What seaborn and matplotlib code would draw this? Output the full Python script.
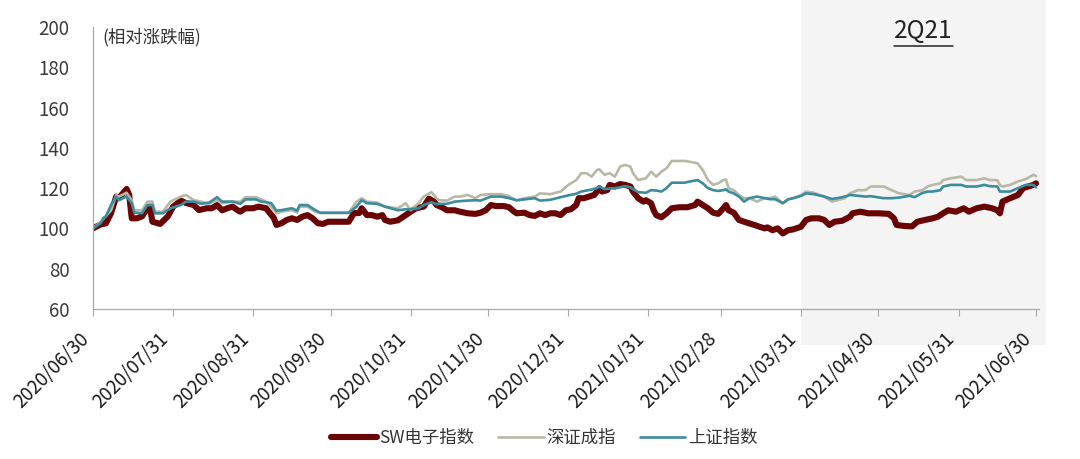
import matplotlib
matplotlib.use("Agg")
import matplotlib.pyplot as plt
import matplotlib.dates as mdates
import matplotlib.transforms as mtransforms
from matplotlib.patches import Rectangle
from matplotlib.lines import Line2D
import seaborn as sns
import pandas as pd

# ---------------- data ----------------
series_names = ["SW电子指数", "深证成指", "上证指数"]

sw_dates = [
    "2020-06-30", "2020-07-03", "2020-07-05", "2020-07-07", "2020-07-09", "2020-07-10", "2020-07-13", "2020-07-14", "2020-07-15", "2020-07-17",
    "2020-07-19", "2020-07-21", "2020-07-22", "2020-07-23", "2020-07-26", "2020-07-29", "2020-07-31", "2020-08-03", "2020-08-05", "2020-08-08",
    "2020-08-10", "2020-08-13", "2020-08-15", "2020-08-17", "2020-08-19", "2020-08-21", "2020-08-23", "2020-08-25", "2020-08-26", "2020-08-28",
    "2020-08-31", "2020-09-02", "2020-09-05", "2020-09-06", "2020-09-08", "2020-09-09", "2020-09-11", "2020-09-13", "2020-09-15", "2020-09-17",
    "2020-09-19", "2020-09-21", "2020-09-23", "2020-09-25", "2020-09-27", "2020-09-29", "2020-10-07", "2020-10-09", "2020-10-11", "2020-10-12",
    "2020-10-14", "2020-10-16", "2020-10-18", "2020-10-20", "2020-10-21", "2020-10-23", "2020-10-26", "2020-10-29", "2020-10-31", "2020-11-02",
    "2020-11-05", "2020-11-07", "2020-11-09", "2020-11-10", "2020-11-12", "2020-11-14", "2020-11-17", "2020-11-19", "2020-11-22", "2020-11-25",
    "2020-11-27", "2020-11-29", "2020-12-01", "2020-12-03", "2020-12-06", "2020-12-08", "2020-12-10", "2020-12-11", "2020-12-14", "2020-12-16",
    "2020-12-18", "2020-12-20", "2020-12-22", "2020-12-24", "2020-12-26", "2020-12-28", "2020-12-30", "2021-01-01", "2021-01-03", "2021-01-04",
    "2021-01-06", "2021-01-08", "2021-01-10", "2021-01-11", "2021-01-12", "2021-01-13", "2021-01-15", "2021-01-16", "2021-01-18", "2021-01-20",
    "2021-01-22", "2021-01-24", "2021-01-25", "2021-01-27", "2021-01-29", "2021-01-30", "2021-02-01", "2021-02-02", "2021-02-03", "2021-02-05",
    "2021-02-07", "2021-02-09", "2021-02-12", "2021-02-15", "2021-02-18", "2021-02-19", "2021-02-21", "2021-02-23", "2021-02-25", "2021-02-27",
    "2021-03-01", "2021-03-02", "2021-03-03", "2021-03-05", "2021-03-07", "2021-03-09", "2021-03-11", "2021-03-13", "2021-03-15", "2021-03-17",
    "2021-03-18", "2021-03-20", "2021-03-22", "2021-03-24", "2021-03-26", "2021-03-28", "2021-03-31", "2021-04-02", "2021-04-04", "2021-04-07",
    "2021-04-09", "2021-04-11", "2021-04-13", "2021-04-16", "2021-04-19", "2021-04-20", "2021-04-23", "2021-04-26", "2021-04-30", "2021-05-04",
    "2021-05-06", "2021-05-07", "2021-05-10", "2021-05-13", "2021-05-15", "2021-05-18", "2021-05-21", "2021-05-23", "2021-05-25", "2021-05-27",
    "2021-05-30", "2021-06-02", "2021-06-04", "2021-06-07", "2021-06-10", "2021-06-13", "2021-06-15", "2021-06-16", "2021-06-17", "2021-06-20",
    "2021-06-23", "2021-06-25", "2021-06-27", "2021-06-29", "2021-06-30",
]
sw_values = [
    100, 102, 102.5, 107.6, 115.8, 115, 119.6, 116.6, 105, 105,
    106, 110, 110.8, 103.3, 102.2, 106, 110.8, 113.8, 112.6, 111.6,
    109.1, 110, 110, 111.6, 109, 110, 110.8, 109, 108.3, 110,
    110, 110.8, 110, 108.3, 105.2, 101.7, 102.6, 104.2, 105, 104.2,
    105.8, 106.6, 105, 102.6, 102.2, 103.3, 103.3, 107.6, 107.6, 110,
    106.6, 106.6, 105.8, 106.6, 104.2, 103.3, 104, 106.6, 108.3, 110,
    110.8, 114.8, 113.3, 111.6, 110.5, 109, 109, 108.3, 107.5, 107.2,
    107.8, 109, 111.6, 111.1, 111.1, 110.5, 108.3, 107.5, 107.8, 106.6,
    106.2, 107.5, 106.6, 107.5, 107.5, 106.6, 109, 109.5, 111.6, 115,
    115, 115.8, 116.6, 118.3, 120, 118.3, 119, 121.6, 120.8, 122,
    121.6, 120.8, 118.3, 115, 113.3, 114, 112.5, 109, 106.6, 105.5,
    107.5, 110, 110.5, 110.5, 111.6, 113.3, 111.6, 110, 107.8, 107.2,
    110, 111.6, 109, 107.8, 104.2, 103.3, 102.5, 101.7, 100.8, 100,
    100.5, 99.1, 100, 97.5, 99.1, 99.5, 100.8, 104.2, 105, 105,
    104.2, 101.7, 103.3, 103.8, 105.8, 107.5, 108.3, 107.5, 107.5, 107.2,
    105, 101.7, 101.2, 101, 103.3, 104.2, 105, 105.8, 107.5, 109,
    108.3, 110, 108.3, 110, 110.8, 110, 109, 107.5, 113.3, 115,
    116.6, 120, 120.8, 121.6, 122.4,
]

idx_dates = [
    "2020-06-30", "2020-07-03", "2020-07-04", "2020-07-05", "2020-07-07", "2020-07-09", "2020-07-10", "2020-07-13", "2020-07-15", "2020-07-16",
    "2020-07-19", "2020-07-21", "2020-07-23", "2020-07-24", "2020-07-27", "2020-07-30", "2020-08-03", "2020-08-05", "2020-08-08", "2020-08-11",
    "2020-08-14", "2020-08-17", "2020-08-19", "2020-08-23", "2020-08-26", "2020-08-28", "2020-09-01", "2020-09-03", "2020-09-05", "2020-09-07",
    "2020-09-09", "2020-09-11", "2020-09-15", "2020-09-17", "2020-09-18", "2020-09-21", "2020-09-24", "2020-09-26", "2020-10-07", "2020-10-10",
    "2020-10-12", "2020-10-14", "2020-10-18", "2020-10-21", "2020-10-26", "2020-10-29", "2020-10-31", "2020-11-03", "2020-11-05", "2020-11-08",
    "2020-11-10", "2020-11-11", "2020-11-14", "2020-11-17", "2020-11-19", "2020-11-22", "2020-11-25", "2020-11-27", "2020-12-01", "2020-12-05",
    "2020-12-08", "2020-12-11", "2020-12-14", "2020-12-18", "2020-12-20", "2020-12-24", "2020-12-28", "2020-12-31", "2021-01-03", "2021-01-05",
    "2021-01-07", "2021-01-09", "2021-01-11", "2021-01-12", "2021-01-14", "2021-01-16", "2021-01-18", "2021-01-20", "2021-01-22", "2021-01-24",
    "2021-01-25", "2021-01-27", "2021-01-30", "2021-02-01", "2021-02-03", "2021-02-05", "2021-02-07", "2021-02-09", "2021-02-14", "2021-02-16",
    "2021-02-19", "2021-02-21", "2021-02-23", "2021-02-25", "2021-02-27", "2021-03-01", "2021-03-02", "2021-03-03", "2021-03-05", "2021-03-07",
    "2021-03-09", "2021-03-11", "2021-03-14", "2021-03-17", "2021-03-19", "2021-03-21", "2021-03-24", "2021-03-26", "2021-03-28", "2021-03-31",
    "2021-04-02", "2021-04-05", "2021-04-09", "2021-04-12", "2021-04-14", "2021-04-17", "2021-04-19", "2021-04-22", "2021-04-25", "2021-04-27",
    "2021-05-02", "2021-05-05", "2021-05-08", "2021-05-12", "2021-05-14", "2021-05-17", "2021-05-19", "2021-05-21", "2021-05-24", "2021-05-25",
    "2021-05-28", "2021-06-01", "2021-06-03", "2021-06-07", "2021-06-10", "2021-06-12", "2021-06-15", "2021-06-16", "2021-06-17", "2021-06-20",
    "2021-06-23", "2021-06-26", "2021-06-29", "2021-06-30",
]
sz_values = [
    100, 103.3, 105, 106, 109, 116.6, 115.8, 117.7, 114, 109,
    109, 113.3, 113.3, 108.3, 108.3, 113.3, 115.8, 116.6, 114, 113.3,
    112.2, 114, 112.5, 113.3, 113.3, 115.5, 115.5, 114.5, 113.3, 110.8,
    107.5, 108.3, 109.1, 107.8, 110.8, 110.8, 108.3, 107.6, 107.6, 113.3,
    115, 113.3, 112.8, 110.8, 110, 112.5, 109, 112.5, 115.8, 118,
    115, 114, 113.8, 115.8, 115.8, 116.6, 115, 116.6, 117, 117,
    116, 113.8, 115, 115.8, 117.4, 117, 118.3, 121.6, 124, 127.4,
    127.4, 125.7, 129, 129.3, 126.6, 127.4, 125.7, 130.7, 131.5, 130.7,
    127.4, 124, 124.9, 128.2, 125.7, 128.2, 129.9, 133.5, 133.5, 133.1,
    132.3, 129, 124, 121.6, 122.4, 124, 124.3, 120, 119, 116.6,
    115, 115, 113.3, 115, 115, 115.8, 112.5, 114.4, 115, 116.5,
    118.3, 117.7, 115.8, 113.3, 114, 115, 117.4, 119, 119, 120.8,
    120.8, 119, 117.4, 116.6, 118.3, 119, 120.8, 121.6, 122.4, 124,
    124.9, 125.7, 124, 124, 124.9, 124, 124, 121.5, 120.8, 121.6,
    123.3, 124.5, 126.6, 126,
]
sh_values = [
    100, 102.6, 105, 106, 111.6, 115.8, 114, 115.8, 112.5, 107.8,
    107.5, 111.6, 111.6, 107.5, 107.5, 110, 111.6, 113.3, 113.3, 112.2,
    112.8, 115.5, 113.3, 113.3, 112.2, 114.4, 114.4, 113.3, 113, 112.5,
    108.8, 109.1, 110, 108.8, 111.6, 111.6, 109.1, 107.8, 107.8, 110.8,
    114, 112.5, 112.2, 110.8, 109, 109.5, 109.5, 110, 111.6, 113,
    112, 112.2, 112.2, 113.3, 113.5, 113.8, 114, 113.8, 115.8, 115.8,
    115, 114, 114.4, 115, 113.8, 114.2, 115.5, 116.4, 117.2, 118.3,
    118.8, 119.3, 120, 120.8, 119.5, 119.8, 120, 120.4, 121, 120.4,
    119.5, 118, 117.7, 119, 118.8, 118.3, 120, 122.7, 122.7, 123.3,
    124, 122.4, 120, 119, 118.6, 119, 119.4, 118.3, 117.4, 115.8,
    113.3, 115, 115.8, 115, 114.5, 114.5, 112.5, 114.4, 115, 116.1,
    117.4, 117, 115.8, 114.6, 115, 115.8, 116.6, 116.2, 115.8, 116,
    115, 115, 115.3, 116.2, 115.5, 117.6, 118.3, 118.3, 119, 120.8,
    121.6, 121.6, 120.8, 120.8, 121.6, 121, 120.8, 118.3, 118.3, 118.3,
    120, 121.6, 121.6, 120.4,
]

tick_dates = ["2020-06-30", "2020-07-31", "2020-08-31", "2020-09-30", "2020-10-31", "2020-11-30",
              "2020-12-31", "2021-01-31", "2021-02-28", "2021-03-31", "2021-04-30", "2021-05-31",
              "2021-06-30"]
y_ticks = [60, 80, 100, 120, 140, 160, 180, 200]
x_range = ["2020-06-30", "2021-07-01"]
shade_range = ["2021-03-31", "2021-07-04"]
shade_label = "2Q21"
y_note = "(相对涨跌幅)"

colors = ["#6a0505", "#b9b8a6", "#3b8c9c"]
widths = [4.4, 1.9, 1.9]

# ---------------- figure ----------------
sns.set_style("white")
plt.rcParams["font.family"] = ["Noto Sans CJK SC", "DejaVu Sans"]

fig = plt.figure(figsize=(10.8, 4.59), dpi=100)
ax = fig.add_axes([0.0861, 0.327, 0.8756, 0.614])
ax.patch.set_facecolor("none")

frames = [
    pd.DataFrame({"date": pd.to_datetime(sw_dates), "value": sw_values}),
    pd.DataFrame({"date": pd.to_datetime(idx_dates), "value": sz_values}),
    pd.DataFrame({"date": pd.to_datetime(idx_dates), "value": sh_values}),
]
for name, df, c, w in zip(series_names, frames, colors, widths):
    sns.lineplot(data=df, x="date", y="value", ax=ax, color=c, linewidth=w,
                 errorbar=None, legend=False, sort=True,
                 solid_capstyle="round", solid_joinstyle="round")

ax.set_xlim(pd.to_datetime(x_range[0]), pd.to_datetime(x_range[1]))
ax.set_ylim(y_ticks[0], y_ticks[-1])
ax.set_yticks(y_ticks)
ax.set_xticks(pd.to_datetime(tick_dates))
ax.xaxis.set_major_formatter(mdates.DateFormatter("%Y/%m/%d"))
ax.set_xlabel("")
ax.set_ylabel("")

for s in ["top", "right"]:
    ax.spines[s].set_visible(False)
for s in ["left", "bottom"]:
    ax.spines[s].set_color("#a8a8a8")
    ax.spines[s].set_linewidth(0.9)

ax.tick_params(axis="y", length=0, pad=17, labelsize=13.5, labelcolor="#3a3a3a")
ax.tick_params(axis="x", direction="out", length=5, width=0.8, color="#a8a8a8",
               pad=9, labelsize=13.5, labelcolor="#1a1a1a", bottom=True)
for lab in ax.get_xticklabels():
    lab.set_rotation(45)
    lab.set_ha("right")
    lab.set_rotation_mode("default")

# shaded quarter (extends beyond the axes, behind everything)
blend = mtransforms.blended_transform_factory(ax.transData, fig.transFigure)
x0 = mdates.date2num(pd.to_datetime(shade_range[0]))
x1 = mdates.date2num(pd.to_datetime(shade_range[1]))
rect = Rectangle((x0, 1 - 345 / 459), x1 - x0, 345 / 459, transform=blend,
                 facecolor="#f4f4f4", edgecolor="none", zorder=-5, clip_on=False)
fig.add_artist(rect)

qx = (x0 + x1) / 2
qtext = ax.text(qx, 0.985, shade_label, transform=mtransforms.blended_transform_factory(ax.transData, ax.transAxes),
                ha="center", va="center", fontsize=17.5, color="#222222")

ax.text(0.01, 0.965, y_note, transform=ax.transAxes, ha="left", va="center",
        fontsize=12.5, color="#333333")

handles = [Line2D([0], [0], color=c, lw=w, solid_capstyle="round") for c, w in zip(colors, widths)]
fig.legend(handles, series_names, loc="center", bbox_to_anchor=(0.504, 0.046), ncol=3,
           frameon=False, fontsize=12.5, handlelength=2.6, handletextpad=0.15,
           columnspacing=1.4, labelcolor="#333333")

# underline for the quarter label
fig.canvas.draw()
bb = qtext.get_window_extent(renderer=fig.canvas.get_renderer())
inv = fig.transFigure.inverted()
(ux0, uy0), (ux1, uy1) = inv.transform([(bb.x0, bb.y0), (bb.x1, bb.y1)])
fig.add_artist(Line2D([ux0, ux1], [uy0 - 0.004, uy0 - 0.004], transform=fig.transFigure,
                      color="#222222", lw=1.1))

fig.savefig("out.png", dpi=100)
